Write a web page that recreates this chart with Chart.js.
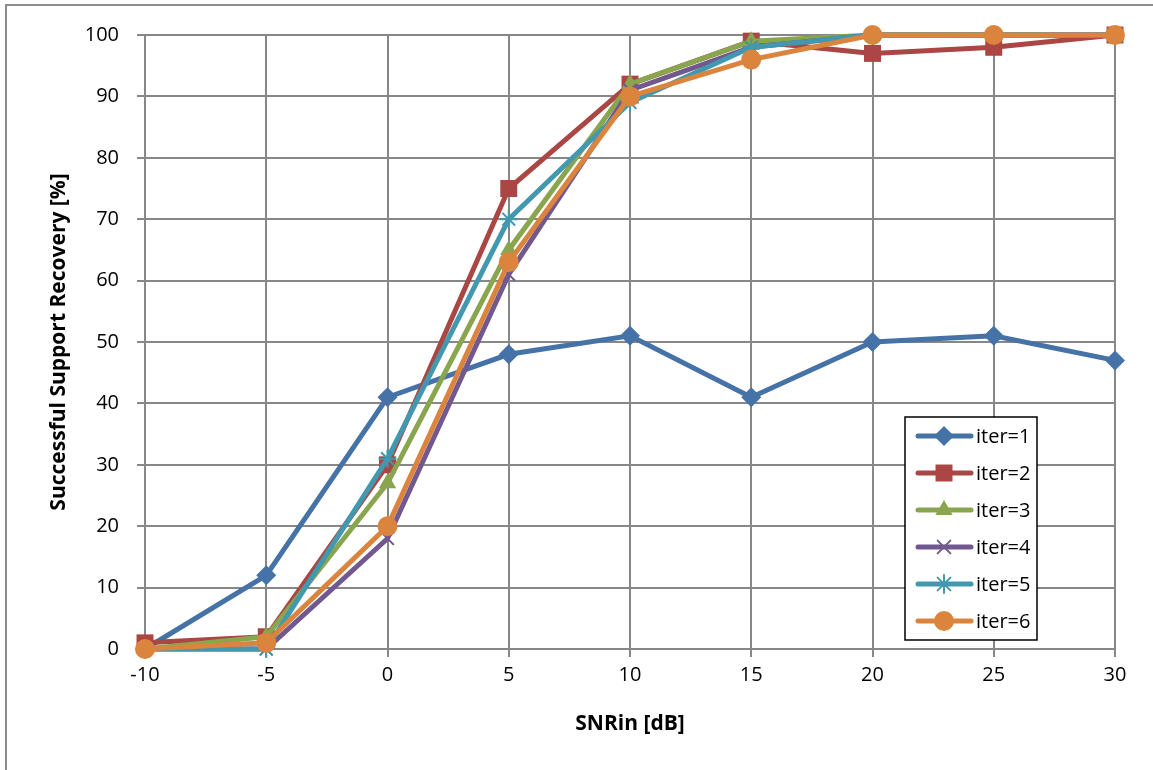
<!DOCTYPE html>
<html>
<head>
<meta charset="utf-8">
<script src="https://cdn.jsdelivr.net/npm/chart.js@4.4.1/dist/chart.umd.min.js"></script>
<style>
  html, body { margin: 0; padding: 0; background: #fff; }
  #wrap { position: relative; width: 1153px; height: 770px; }
</style>
</head>
<body>
<div id="wrap"><canvas id="chart" width="1153" height="770"></canvas></div>
<script>
// data
const snrLabels = ["-10", "-5", "0", "5", "10", "15", "20", "25", "30"]
const iter1 = [0, 12, 41, 48, 51, 41, 50, 51, 47]
const iter2 = [1, 2, 30, 75, 92, 99, 97, 98, 100]
const iter3 = [0, 2, 27, 65, 92, 99, 100, 100, 100]
const iter4 = [0, 0, 18, 61, 91, 98, 100, 100, 100]
const iter5 = [0, 0, 31, 70, 89, 98, 100, 100, 100]
const iter6 = [0, 1, 20, 63, 90, 96, 100, 100, 100]
const seriesNames = ["iter=1", "iter=2", "iter=3", "iter=4", "iter=5", "iter=6"]
const yTicks = [0, 10, 20, 30, 40, 50, 60, 70, 80, 90, 100]

const colors = ["#4572A7", "#AA4643", "#89A54E", "#71588F", "#4198AF", "#DB843D"]
const markers = ["rectRot", "rect", "triangle", "crossRot", "star", "circle"]
const radii = [10, 12, 10, 9, 9, 10]
const gridColor = "#878787"

function makeSet(i, values) {
    const lineOnly = markers[i] === "crossRot" || markers[i] === "star"
    return {
        label: seriesNames[i],
        data: values,
        order: seriesNames.length - i, // later series drawn on top
        borderColor: colors[i],
        backgroundColor: colors[i],
        borderWidth: 5,
        pointStyle: markers[i],
        pointRadius: radii[i],
        pointHoverRadius: radii[i],
        pointBackgroundColor: colors[i],
        pointBorderColor: colors[i],
        pointBorderWidth: lineOnly ? 2 : 0,
        tension: 0,
        clip: false
    }
}

// gray frame on the left and top edges
const framePlugin = {
    id: "frame",
    beforeDraw(chart) {
        const ctx = chart.ctx
        ctx.save()
        ctx.strokeStyle = "#8c8c8c"
        ctx.lineWidth = 2
        ctx.beginPath()
        ctx.moveTo(6, 770)
        ctx.lineTo(6, 5)
        ctx.lineTo(1153, 5)
        ctx.stroke()
        ctx.restore()
    }
}

// boxed legend inside the plot, lower right
const boxLegend = {
    id: "boxLegend",
    afterDraw(chart) {
        const ctx = chart.ctx
        const left = 905, top = 417, w = 132, h = 223
        ctx.save()
        ctx.fillStyle = "#fff"
        ctx.fillRect(left, top, w, h)
        ctx.strokeStyle = "#000"
        ctx.lineWidth = 1.5
        ctx.strokeRect(left, top, w, h)
        chart.data.datasets.forEach((ds, i) => {
            const y = top + 19 + i * 37
            ctx.strokeStyle = ds.borderColor
            ctx.lineWidth = 5
            ctx.lineCap = "round"
            ctx.beginPath()
            ctx.moveTo(918, y)
            ctx.lineTo(971, y)
            ctx.stroke()
            ctx.fillStyle = ds.pointBackgroundColor
            ctx.strokeStyle = ds.pointBorderColor
            ctx.lineWidth = ds.pointBorderWidth || 0.01
            Chart.helpers.drawPoint(ctx, {
                pointStyle: ds.pointStyle,
                radius: ds.pointRadius,
                rotation: 0,
                borderWidth: ds.pointBorderWidth
            }, 944, y)
            ctx.fillStyle = "#000"
            ctx.font = "20px 'Open Sans'"
            ctx.textBaseline = "middle"
            ctx.textAlign = "left"
            ctx.fillText(ds.label, 976, y + 1)
        })
        ctx.restore()
    }
}

const allSeries = [iter1, iter2, iter3, iter4, iter5, iter6]

new Chart(document.getElementById("chart"), {
    type: "line",
    data: {
        labels: snrLabels,
        datasets: allSeries.map((vals, i) => makeSet(i, vals))
    },
    options: {
        responsive: false,
        animation: false,
        layout: { padding: { left: 0, top: 35, right: 38, bottom: 0 } },
        plugins: {
            legend: { display: false },
            tooltip: { enabled: false }
        },
        scales: {
            x: {
                offset: false,
                grid: { color: gridColor, lineWidth: 2, tickLength: 8, drawTicks: true },
                border: { color: gridColor, width: 2 },
                ticks: {
                    color: "#000",
                    font: { family: "'Open Sans'", size: 20 },
                    padding: 6,
                    maxRotation: 0
                },
                title: {
                    display: true,
                    text: "SNRin [dB]",
                    color: "#000",
                    font: { family: "'Open Sans'", size: 21, weight: "bold" },
                    padding: { top: 0, bottom: 33 }
                },
                afterFit(scale) { scale.height = 121 }
            },
            y: {
                min: 0,
                max: 100,
                afterBuildTicks(scale) { scale.ticks = yTicks.map(v => ({ value: v })) },
                grid: { color: gridColor, lineWidth: 2, tickLength: 8, drawTicks: true },
                border: { color: gridColor, width: 2 },
                ticks: {
                    color: "#000",
                    font: { family: "'Open Sans'", size: 20 },
                    padding: 18
                },
                title: {
                    display: true,
                    text: "Successful Support Recovery [%]",
                    color: "#000",
                    font: { family: "'Open Sans'", size: 21, weight: "bold" },
                    padding: { top: 46, bottom: 0 }
                },
                afterFit(scale) { scale.width = 145 }
            }
        }
    },
    plugins: [framePlugin, boxLegend]
})
</script>
</body>
</html>
